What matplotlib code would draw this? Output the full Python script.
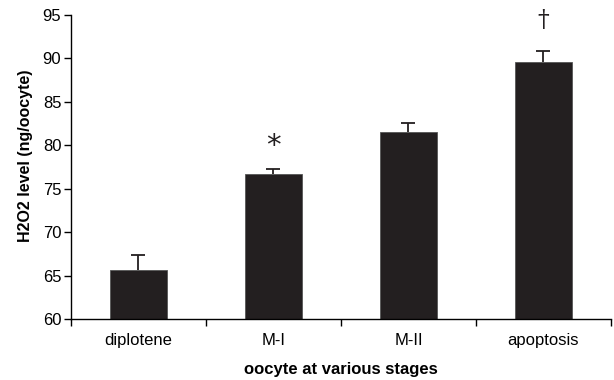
import numpy as np
import matplotlib
matplotlib.use("Agg")
from matplotlib import pyplot as plt

plt.rcParams['font.family'] = ['Liberation Sans', 'DejaVu Sans']

# data
stages = ['diplotene', 'M-I', 'M-II', 'apoptosis']
h2o2 = [65.7, 76.66, 81.5, 89.6]
sem = [1.67, 0.65, 1.1, 1.2]
marks = ['', '*', '', '\u2020']

fig = plt.figure(figsize=(6.14, 3.80), dpi=100)
ax = fig.add_axes([0.1156, 0.1605, 0.8794, 0.8])

x = np.arange(len(stages))
ax.bar(x, h2o2, width=0.42, color='#231f20', edgecolor='#555555', linewidth=0.6, zorder=2)
# upper error only
eb = ax.errorbar(x, h2o2, yerr=[np.zeros(len(sem)), sem], fmt='none', ecolor='#231f20',
                 elinewidth=1.3, capsize=5, capthick=1.3, zorder=1)
for cap in eb[1]:
    if np.allclose(cap.get_ydata(), h2o2):
        cap.set_visible(False)  # hide the lower cap sitting on the bar top

for xi, v, e, m in zip(x, h2o2, sem, marks):
    if m == '*':
        ax.text(xi, v + e + 1.0, m, ha='center', va='bottom', fontsize=21,
                family='DejaVu Sans', color='#231f20')
    elif m:
        ax.text(xi, v + e + 2.3, m, ha='center', va='bottom', fontsize=17,
                family='DejaVu Serif', color='#231f20')

ax.set_xlim(-0.5, len(stages) - 0.5)
ax.set_ylim(60, 95)
ax.set_yticks(np.arange(60, 96, 5))
ax.tick_params(axis='y', labelsize=12, length=5, width=1, direction='out', pad=2)

# category ticks at boundaries, labels in the middle
ax.set_xticks(np.arange(-0.5, len(stages), 1.0))
ax.set_xticklabels([])
ax.set_xticks(x, minor=True)
ax.set_xticklabels(stages, minor=True)
ax.tick_params(axis='x', which='major', length=5, width=1, direction='out')
ax.tick_params(axis='x', which='minor', length=0, labelsize=12, pad=10)

for s in ['top', 'right']:
    ax.spines[s].set_visible(False)
for s in ['left', 'bottom']:
    ax.spines[s].set_linewidth(1)

ax.set_xlabel('oocyte at various stages', fontsize=12, fontweight='bold', labelpad=10)
ax.set_ylabel('H2O2 level (ng/oocyte)', fontsize=11.5, fontweight='bold', va='center')
ax.yaxis.set_label_coords(-0.085, 0.536)

fig.savefig('out.png', dpi=100)
